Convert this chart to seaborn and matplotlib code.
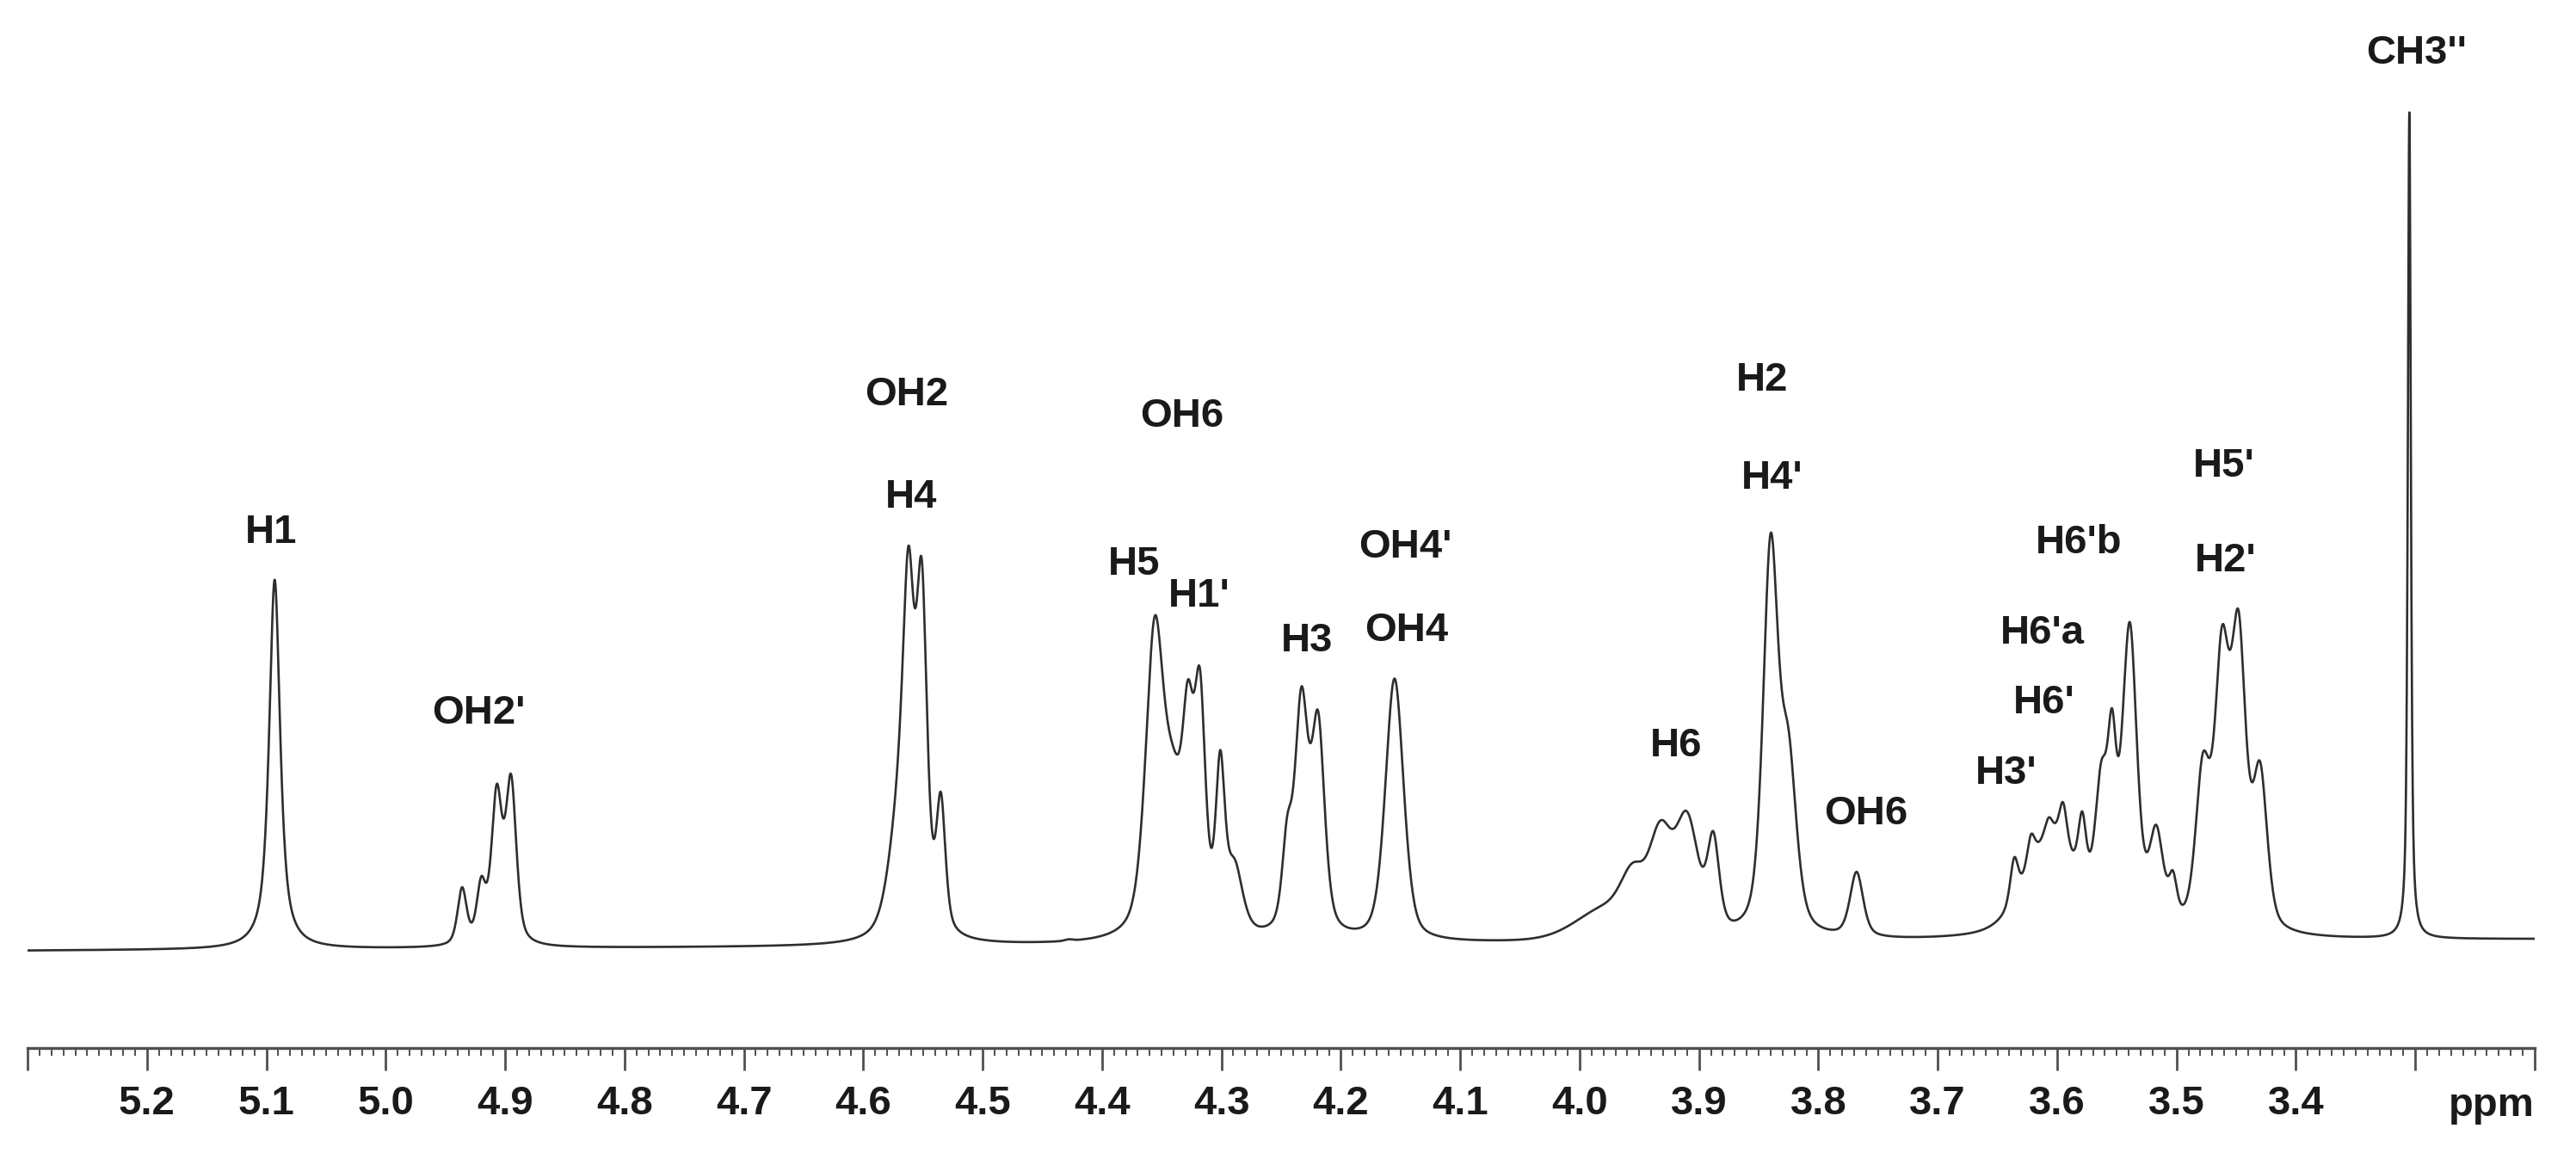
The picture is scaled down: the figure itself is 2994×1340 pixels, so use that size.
import numpy as np
import pandas as pd
import matplotlib
matplotlib.use("Agg")
import matplotlib.pyplot as plt
from matplotlib.ticker import FixedLocator, FixedFormatter, MultipleLocator
import seaborn as sns

# ---------------- data ----------------
# traced points of the spectrum: chemical shift (ppm) and height above baseline
obs_ppm = [5.280, 5.200, 5.140, 5.113, 5.093, 5.072, 5.040, 4.990,
           4.955, 4.944, 4.936, 4.929, 4.920, 4.914, 4.907, 4.901, 4.895, 4.886, 4.874, 4.850,
           4.780, 4.700, 4.620, 4.590, 4.579, 4.574, 4.562, 4.556, 4.551, 4.544, 4.540, 4.535,
           4.530, 4.522, 4.505, 4.470, 4.428, 4.421, 4.414, 4.400,
           4.386, 4.376, 4.368, 4.363, 4.356, 4.350, 4.344, 4.338, 4.328, 4.323, 4.318, 4.307,
           4.301, 4.294, 4.287, 4.276, 4.267, 4.258, 4.250, 4.245, 4.239, 4.233, 4.225, 4.219,
           4.214, 4.206, 4.199, 4.186, 4.173, 4.166, 4.161, 4.155, 4.148, 4.142, 4.135, 4.126,
           4.100, 4.064, 4.030, 4.007, 3.990, 3.978, 3.968, 3.956, 3.950, 3.942, 3.933, 3.918,
           3.910, 3.901, 3.896,
           3.888, 3.879, 3.870, 3.861, 3.853, 3.840, 3.834, 3.824, 3.816, 3.807, 3.793, 3.779,
           3.768, 3.759, 3.744, 3.720, 3.690, 3.665, 3.650, 3.642, 3.636, 3.629, 3.622, 3.616,
           3.607, 3.601, 3.595, 3.587, 3.579, 3.572, 3.563, 3.554, 3.550, 3.545, 3.540, 3.533,
           3.528, 3.522, 3.515, 3.508, 3.503, 3.494, 3.485, 3.476, 3.468, 3.461, 3.456, 3.448,
           3.439, 3.430, 3.422, 3.416, 3.402, 3.380, 3.351, 3.320, 3.313, 3.305, 3.297, 3.290,
           3.260, 3.220]
obs_height = [0, 0, 3, 21, 430, 21, 3, 0,
              8, 30, 65, 55, 84, 76, 193, 147, 199, 100, 14, 2,
              0, 0, 4, 15, 79, 170, 473, 367, 451, 240, 165, 147,
              79, 22, 4, 0, 8, 4, 7, 3,
              5, 53, 125, 268, 374, 316, 268, 211, 311, 292, 321, 165,
              216, 125, 80, 39, 29, 53, 96, 125, 220, 295, 225, 276,
              173, 63, 24, 15, 39, 101, 220, 287, 244, 125, 39, 15,
              3, 2, 10, 19, 28, 40, 58, 91, 95, 115, 136, 146,
              141, 112, 95,
              108, 88, 72, 122, 270, 469, 340, 241, 130, 60, 24, 36,
              76, 40, 7, 0, 0, 2, 15, 40, 98, 88, 124, 115,
              148, 120, 165, 105, 150, 115, 210, 255, 250, 270, 345, 265,
              170, 108, 98, 76, 81, 48, 125, 210, 275, 366, 330, 368,
              280, 150, 74, 36, 5, 0, 0, 10, 45, 962, 50, 10,
              0, 0]

# resonance lines: position (ppm), line width (FWHM, ppm), Lorentzian fraction
line_ppm = [5.093, 4.936, 4.920, 4.907, 4.895, 4.428, 4.414,
            4.568, 4.562, 4.551, 4.535,
            4.356, 4.340, 4.328, 4.318, 4.301, 4.289,
            4.245, 4.233, 4.219, 4.155,
            3.978, 3.955, 3.932, 3.910, 3.888, 3.840, 3.825, 3.768,
            3.605, 3.636, 3.622, 3.607, 3.595, 3.579,
            3.563, 3.554, 3.545, 3.539, 3.517, 3.503,
            3.478, 3.462, 3.448, 3.430, 3.305]
line_fwhm = [0.011, 0.009, 0.009, 0.0105, 0.0105, 0.008, 0.008,
             0.022, 0.0105, 0.0105, 0.009,
             0.018, 0.020, 0.011, 0.011, 0.009, 0.016,
             0.010, 0.013, 0.013, 0.018,
             0.060, 0.024, 0.022, 0.022, 0.012, 0.015, 0.016, 0.013,
             0.050, 0.008, 0.008, 0.008, 0.008, 0.008,
             0.012, 0.009, 0.009, 0.014, 0.014, 0.008,
             0.014, 0.0145, 0.0145, 0.014, 0.003]
line_lorentz = [0.8, 0.5, 0.5, 0.5, 0.5, 0.5, 0.5,
                0.5, 0.5, 0.5, 0.5,
                0.5, 0.5, 0.5, 0.5, 0.5, 0.5,
                0.5, 0.5, 0.5, 0.4,
                0.3, 0.3, 0.2, 0.2, 0.5, 0.5, 0.5, 0.5,
                0.5, 0.5, 0.5, 0.5, 0.5, 0.5,
                0.5, 0.5, 0.5, 0.5, 0.5, 0.5,
                0.4, 0.5, 0.5, 0.4, 0.7]

# baseline drift (ppm, level)
baseline_ppm = [5.30, 3.20]
baseline_level = [0.0, 13.0]

# axis ticks
tick_values = [5.3, 5.2, 5.1, 5.0, 4.9, 4.8, 4.7, 4.6, 4.5, 4.4, 4.3, 4.2, 4.1,
               4.0, 3.9, 3.8, 3.7, 3.6, 3.5, 3.4, 3.3, 3.2]
tick_labels = ["", "5.2", "5.1", "5.0", "4.9", "4.8", "4.7", "4.6", "4.5", "4.4", "4.3",
               "4.2", "4.1", "4.0", "3.9", "3.8", "3.7", "3.6", "3.5", "3.4", "", ""]

# peak assignments
label_text = ["H1", "OH2'", "OH2", "H4", "OH6", "H5", "H1'", "H3", "OH4'", "OH4",
              "H2", "H4'", "H6", "OH6", "H3'", "H6'", "H6'a", "H6'b", "H5'", "H2'", "CH3''"]
label_ppm = [5.096, 4.922, 4.564, 4.560, 4.333, 4.373, 4.319, 4.228, 4.146, 4.145,
             3.847, 3.839, 3.919, 3.760, 3.643, 3.611, 3.612, 3.582, 3.460, 3.459, 3.299]
label_y = [474, 264, 634, 515, 609, 437, 400, 348, 457, 360,
           651, 537, 226, 147, 194, 276, 357, 462, 551, 441, 1031]


# ---------------- build spectrum from the line list ----------------
def line_shape(x, c, w, eta):
    d = (np.asarray(x) - c) / w
    return eta / (1.0 + 4.0 * d ** 2) + (1.0 - eta) * np.exp(-4.0 * np.log(2.0) * d ** 2)


def nnls(A, b, max_iter=2000):
    n = A.shape[1]
    P = np.zeros(n, bool)
    x = np.zeros(n)
    w = A.T @ (b - A @ x)
    it = 0
    while (~P).any() and np.max(np.where(P, -np.inf, w)) > 1e-7 and it < max_iter:
        j = int(np.argmax(np.where(P, -np.inf, w)))
        P[j] = True
        while True:
            it += 1
            z = np.zeros(n)
            z[P] = np.linalg.lstsq(A[:, P], b, rcond=None)[0]
            if (z[P] > 0).all() or it > max_iter:
                break
            mask = P & (z <= 0)
            alpha = np.min(x[mask] / (x[mask] - z[mask] + 1e-15))
            x = x + alpha * (z - x)
            P &= x > 1e-10
        x = np.clip(z, 0, None)
        w = A.T @ (b - A @ x)
    return x


obs_x = np.array(obs_ppm)
obs_y = np.array(obs_height, float)
wts = 1.0 + obs_y / 100.0
A = np.column_stack([line_shape(obs_x, c, w, e)
                     for c, w, e in zip(line_ppm, line_fwhm, line_lorentz)])
amps = nnls(A * wts[:, None], obs_y * wts)

ppm = np.linspace(5.30, 3.20, 12001)
intensity = np.interp(ppm, baseline_ppm[::-1], baseline_level[::-1])
for a, c, w, e in zip(amps, line_ppm, line_fwhm, line_lorentz):
    intensity = intensity + a * line_shape(ppm, c, w, e)
df = pd.DataFrame({"ppm": ppm, "intensity": intensity})

# ---------------- plot ----------------
sns.set_theme(style="white")
plt.rcParams["font.family"] = ["Liberation Sans", "DejaVu Sans"]

fig = plt.figure(figsize=(29.94, 13.40), dpi=100)
ax = fig.add_axes([32 / 2994, 122 / 1340, 2914 / 2994, 1218 / 1340])
ax.set_facecolor("white")

sns.lineplot(data=df, x="ppm", y="intensity", ax=ax, color="#2e2e2e",
             linewidth=1.9, estimator=None, sort=False)

ax.set_xlim(5.30, 3.20)
ax.set_ylim(-113, 1105)
for s in ["left", "right", "top"]:
    ax.spines[s].set_visible(False)
ax.spines["bottom"].set_linewidth(2.4)
ax.spines["bottom"].set_color("#505050")
ax.set_yticks([])
ax.set_xlabel("")
ax.set_ylabel("")

ax.xaxis.set_major_locator(FixedLocator(tick_values))
ax.xaxis.set_major_formatter(FixedFormatter(tick_labels))
ax.xaxis.set_minor_locator(MultipleLocator(0.01))
ax.tick_params(axis="x", which="major", bottom=True, length=19, width=2.0,
               direction="out", pad=12, labelsize=34, color="#505050",
               labelcolor="#1a1a1a")
ax.tick_params(axis="x", which="minor", bottom=True, length=6.5, width=1.4,
               direction="out", color="#505050")
for lbl in ax.get_xticklabels():
    lbl.set_fontweight("bold")

ax.text(3.20, -192, "ppm", ha="right", va="baseline", fontsize=34,
        fontweight="bold", color="#1a1a1a")

for t, xp, yp in zip(label_text, label_ppm, label_y):
    ax.text(xp, yp, t, ha="center", va="baseline", fontsize=34,
            fontweight="bold", color="#1a1a1a")

fig.savefig("out.png", dpi=100, facecolor="white")
